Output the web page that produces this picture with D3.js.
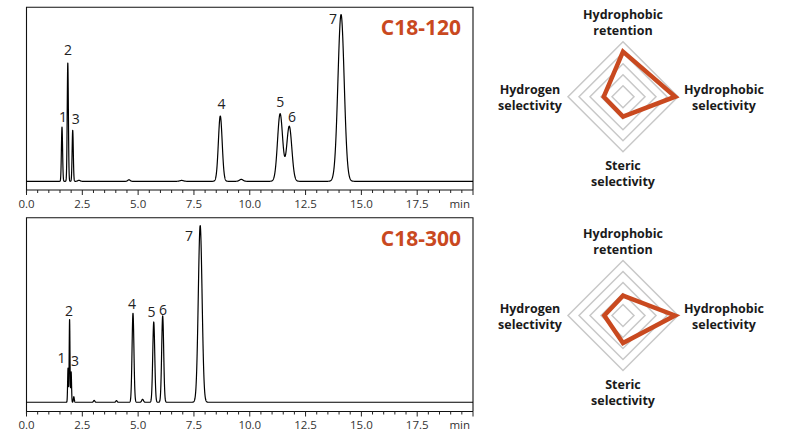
<!DOCTYPE html>
<html>
<head>
<meta charset="utf-8">
<script src="https://cdn.jsdelivr.net/npm/d3@7/dist/d3.min.js"></script>
<style>
  html, body { margin: 0; padding: 0; background: #fff; }
  svg { display: block; }
</style>
</head>
<body>
<svg id="chart" width="795" height="447"></svg>
<script>
// ---------------- DATA ----------------
const columns = ["C18-120", "C18-300"];
const xTicks = [0, 2.5, 5, 7.5, 10, 12.5, 15, 17.5];
const xTickLabels = ["0.0", "2.5", "5.0", "7.5", "10.0", "12.5", "15.0", "17.5"];
const axisUnit = "min";

// Peak tables (retention time min, height, width sigma min)
const peakNames = ["1", "2", "3", "4", "5", "6", "7"];
const c120Times   = [1.59, 1.85, 2.07, 8.68, 11.36, 11.77, 14.09];
const c120Heights = [31.2, 68.1, 29.4, 37.5, 38.8, 31.6, 95.8];
const c120Sigmas  = [0.026, 0.026, 0.026, 0.085, 0.115, 0.115, 0.14];
const c120MinorTimes   = [2.35, 4.59, 6.95, 9.62];
const c120MinorHeights = [0.6, 0.9, 0.5, 1.1];
const c120MinorSigmas  = [0.05, 0.05, 0.08, 0.08];
const c120LabelTimes  = [1.64, 1.86, 2.21, 8.73, 11.37, 11.89, 13.73];
const c120LabelValues = [34.2, 72.5, 32.9, 41.5, 42.8, 34.2, 90.6];

const c300Times   = [1.86, 1.93, 2.0, 4.77, 5.70, 6.10, 7.78];
const c300Heights = [18.5, 45.0, 16.5, 48.2, 43.5, 46.8, 95.7];
const c300Sigmas  = [0.018, 0.018, 0.018, 0.042, 0.045, 0.045, 0.085];
const c300MinorTimes   = [2.12, 3.03, 4.03, 5.2];
const c300MinorHeights = [3.0, 1.0, 0.9, 1.6];
const c300MinorSigmas  = [0.02, 0.03, 0.03, 0.04];
const c300LabelTimes  = [1.57, 1.90, 2.17, 4.73, 5.60, 6.12, 7.28];
const c300LabelValues = [21.1, 46.7, 19.8, 50.5, 46.4, 47.3, 87.5];

// Radar charts
const radarAxes = [["Hydrophobic", "retention"], ["Hydrophobic", "selectivity"], ["Steric", "selectivity"], ["Hydrogen", "selectivity"]];
const radarLevels = [0.2, 0.4, 0.6, 0.8, 1.0];
const c120Radar = [0.82, 0.95, 0.36, 0.35];
const c300Radar = [0.36, 0.945, 0.50, 0.34];

// ---------------- DRAW ----------------
const svg = d3.select("#chart");
const accent = "#c9491f";
const font = "'Open Sans', 'Noto Sans', sans-serif";

function gauss(t, mu, h, s) { const d = (t - mu) / s; return h * Math.exp(-0.5 * d * d); }

function chromatogram(panel) {
  const x = d3.scaleLinear().domain([0, 20]).range([26.5, 473]);
  const y = d3.scaleLinear().domain([-5, 100]).range([panel.bottom, panel.top]);
  const g = svg.append("g");

  // samples of the detector signal from the peak table
  const times = d3.range(0, 20.0001, 0.004);
  const trace = times.map(t => {
    let v = 0;
    panel.times.forEach((mu, i) => v += gauss(t, mu, panel.heights[i], panel.sigmas[i]));
    panel.minorTimes.forEach((mu, i) => v += gauss(t, mu, panel.minorHeights[i], panel.minorSigmas[i]));
    return [t, v];
  });

  // frame (left, top, right)
  g.append("path")
    .attr("d", `M${x(0)},${y(-5) + 3}V${y(100)}H${x(20)}V${y(-5)}`)
    .attr("fill", "none").attr("stroke", "#111").attr("stroke-width", 1.1);

  // x axis
  const minor = d3.range(0, 20.0001, 0.5);
  const axis = g.append("g").attr("transform", `translate(0,${y(-5)})`);
  axis.append("line").attr("x1", x(0)).attr("x2", x(20)).attr("stroke", "#111").attr("stroke-width", 1.1);
  axis.selectAll("line.tk").data(minor).join("line").attr("class", "tk")
    .attr("x1", d => x(d)).attr("x2", d => x(d))
    .attr("y1", 0).attr("y2", d => (Math.abs(d / 2.5 - Math.round(d / 2.5)) < 1e-6) ? 5 : 3)
    .attr("stroke", "#222").attr("stroke-width", 1);
  axis.selectAll("text.tl").data(xTicks).join("text").attr("class", "tl")
    .attr("x", d => x(d)).attr("y", 17.5)
    .attr("text-anchor", "middle")
    .attr("font-family", font).attr("font-size", 11.5).attr("fill", "#333")
    .text((d, i) => xTickLabels[i]);
  axis.append("text").attr("x", x(20) - 3).attr("y", 17.5)
    .attr("text-anchor", "end")
    .attr("font-family", font).attr("font-size", 11.5).attr("fill", "#333")
    .text(axisUnit);

  // trace
  g.append("path").datum(trace)
    .attr("d", d3.line().x(d => x(d[0])).y(d => y(d[1])))
    .attr("fill", "none").attr("stroke", "#000").attr("stroke-width", 1.2)
    .attr("stroke-linejoin", "round");

  // peak numbers
  g.selectAll("text.pk").data(peakNames).join("text").attr("class", "pk")
    .attr("x", (d, i) => x(panel.labelTimes[i]))
    .attr("y", (d, i) => y(panel.labelValues[i]))
    .attr("text-anchor", "middle")
    .attr("font-family", font).attr("font-size", 14).attr("fill", "#222")
    .text(d => d);

  // title
  g.append("text").attr("x", 461).attr("y", panel.top + 28)
    .attr("text-anchor", "end")
    .attr("font-family", font).attr("font-weight", 700).attr("font-size", 21)
    .attr("fill", accent)
    .text(panel.name);
}

chromatogram({ name: columns[0], top: 7.3, bottom: 190,
  times: c120Times, heights: c120Heights, sigmas: c120Sigmas,
  minorTimes: c120MinorTimes, minorHeights: c120MinorHeights, minorSigmas: c120MinorSigmas,
  labelTimes: c120LabelTimes, labelValues: c120LabelValues });
chromatogram({ name: columns[1], top: 217.7, bottom: 411.5,
  times: c300Times, heights: c300Heights, sigmas: c300Sigmas,
  minorTimes: c300MinorTimes, minorHeights: c300MinorHeights, minorSigmas: c300MinorSigmas,
  labelTimes: c300LabelTimes, labelValues: c300LabelValues });

function radar(cx, cy, values) {
  const r = d3.scaleLinear().domain([0, 1]).range([0, 55]);
  const angles = [-Math.PI / 2, 0, Math.PI / 2, Math.PI];
  const g = svg.append("g").attr("transform", `translate(${cx},${cy})`);
  const line = d3.line().curve(d3.curveLinearClosed);
  g.selectAll("path.grid").data(radarLevels).join("path").attr("class", "grid")
    .attr("d", lv => line(angles.map(a => [r(lv) * Math.cos(a), r(lv) * Math.sin(a)])))
    .attr("fill", "none").attr("stroke", "#c8c8c8").attr("stroke-width", 1.5);
  g.append("path")
    .attr("d", line(angles.map((a, i) => [r(values[i]) * Math.cos(a), r(values[i]) * Math.sin(a)])))
    .attr("fill", "none").attr("stroke", accent).attr("stroke-width", 4.5)
    .attr("stroke-linejoin", "miter");
  const pos = [[0, -77.5], [101, -3], [0, 73.5], [-93, -3]];
  radarAxes.forEach((lines, i) => {
    const t = g.append("text")
      .attr("text-anchor", "middle")
      .attr("font-family", font).attr("font-weight", 700).attr("font-size", 12.5)
      .attr("fill", "#1a1a1a");
    lines.forEach((s, j) => t.append("tspan")
      .attr("x", pos[i][0]).attr("y", pos[i][1] + j * 16).text(s));
  });
}

radar(623, 96.7, c120Radar);
radar(623, 315.5, c300Radar);
</script>
</body>
</html>
